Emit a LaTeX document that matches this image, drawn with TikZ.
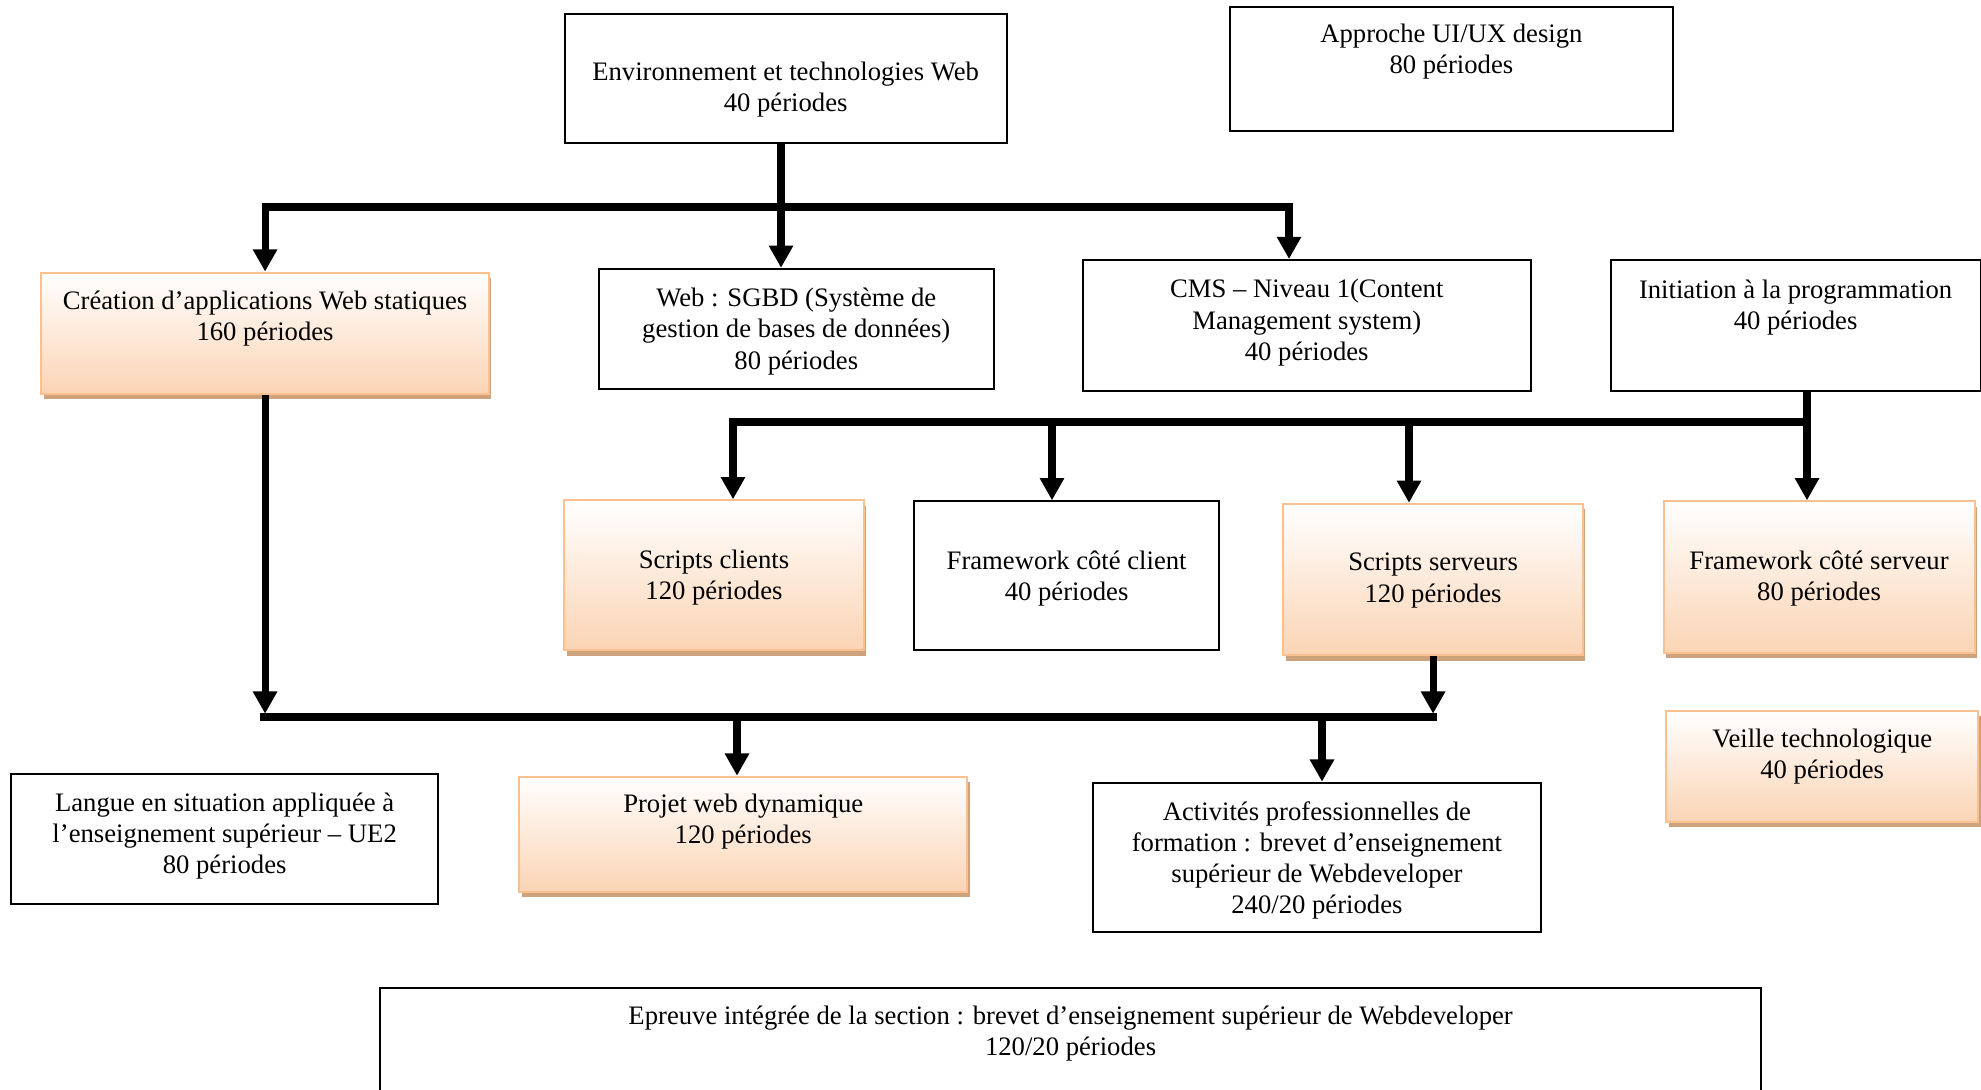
\documentclass[tikz,border=0pt]{standalone}
\usepackage{fontspec}
\setmainfont{Liberation Serif}
\usepackage{tikz}
\usetikzlibrary{
  arrows.meta,
  shadows,
  positioning
}
\definecolor{peach}{RGB}{251,212,180}
\definecolor{peachline}{RGB}{250,192,143}
\definecolor{peachshadow}{RGB}{205,162,125}

\begin{document}
\begin{tikzpicture}[
      x=0.45pt,y=-0.45pt,
      plainbox/.style={
         rectangle,
         anchor=north west,
         inner sep=0pt,
         line width=0.9pt,
         draw=black
      },
      shadedbox/.style={
         plainbox,
         draw=peachline,
         top color=white,
         bottom color=peach,
         drop shadow={shadow xshift=1.2pt,shadow yshift=-2.4pt,
            fill=peachshadow,opacity=1}
      },
      txt/.style={
         anchor=north,
         align=center,
         inner sep=0pt,
         yshift=-#1,
         font=\fontsize{12}{14}\selectfont
      },
      bus/.style={line width=3.2pt,draw=black},
      >={Triangle[width=10.4pt,length=10pt]}
    ]
    \clip (0,0) rectangle (1981,1089);
    % first row
    \node[plainbox, minimum width=199.0pt, minimum height=58.0pt,
       label={[txt=22pt]north:{Environnement et technologies Web\\40 périodes}}] (env) at (563.5,12.6) {};
    \node[plainbox, minimum width=199.0pt, minimum height=55.7pt,
       label={[txt=7.9pt]north:{Approche UI/UX design\\80 périodes}}] (uiux) at (1229.3,6.3) {};
    % second row
    \node[shadedbox, minimum width=201.3pt, minimum height=54.6pt,
       label={[txt=8.5pt]north:{Création d’applications Web statiques\\160 périodes}}] (cwa) at (40.4,271.6) {};
    \node[plainbox, minimum width=177.9pt, minimum height=54.0pt,
       label={[txt=9.0pt]north:{Web : SGBD (Système de\\gestion de bases de données)\\80 périodes}}] (sgbd) at (597.6,267.8) {};
    \node[plainbox, minimum width=201.8pt, minimum height=59.1pt,
       label={[txt=9.0pt]north:{CMS – Niveau 1(Content\\Management system)\\40 périodes}}] (cms) at (1081.5,259.0) {};
    \node[plainbox, minimum width=166.5pt, minimum height=58.8pt,
       label={[txt=9.0pt]north:{Initiation à la programmation\\40 périodes}}] (init) at (1609.6,259.3) {};
    % third row
    \node[shadedbox, minimum width=134.7pt, minimum height=67.5pt,
       label={[txt=22.5pt]north:{Scripts clients\\120 périodes}}] (scli) at (563.3,499.3) {};
    \node[plainbox, minimum width=137.0pt, minimum height=67.1pt,
       label={[txt=22.5pt]north:{Framework côté client\\40 périodes}}] (fcli) at (913.4,500.3) {};
    \node[shadedbox, minimum width=134.7pt, minimum height=68.2pt,
       label={[txt=22.5pt]north:{Scripts serveurs\\120 périodes}}] (sser) at (1282.4,502.8) {};
    \node[shadedbox, minimum width=139.9pt, minimum height=68.2pt,
       label={[txt=22.5pt]north:{Framework côté serveur\\80 périodes}}] (fser) at (1662.6,500.3) {};
    \node[shadedbox, minimum width=140.4pt, minimum height=50.0pt,
       label={[txt=8.5pt]north:{Veille technologique\\40 périodes}}] (veille) at (1665.2,710.0) {};
    % fourth row
    \node[plainbox, minimum width=192.2pt, minimum height=58.5pt,
       label={[txt=8.5pt]north:{Langue en situation appliquée à\\l’enseignement supérieur – UE2\\80 périodes}}] (langue) at (10.1,773.2) {};
    \node[shadedbox, minimum width=201.8pt, minimum height=51.8pt,
       label={[txt=7.9pt]north:{Projet web dynamique\\120 périodes}}] (projet) at (518.0,775.7) {};
    \node[plainbox, minimum width=201.8pt, minimum height=67.1pt,
       label={[txt=8.7pt]north:{Activités professionnelles de\\formation : brevet d’enseignement\\supérieur de Webdeveloper\\240/20 périodes}}] (apf) at (1091.7,781.7) {};
    \node[plainbox, minimum width=621.5pt, minimum height=63pt,
       label={[txt=8.5pt]north:{Epreuve intégrée de la section : brevet d’enseignement supérieur de Webdeveloper\\120/20 périodes}}] (epi) at (379,986.7) {};

    \coordinate (t0) at (781,207);
    \coordinate (t1) at (1289,207);
    \coordinate (m0) at (1807,422);
    \coordinate (m1) at (733,422);
    \coordinate (m2) at (1052,422);
    \coordinate (m3) at (1409,422);
    \coordinate (b0) at (264,717);
    \coordinate (b1) at (737,717);
    \coordinate (b2) at (1322,717);

    \draw[bus] (env.south -| t0) -- (t0);
    \draw[bus,->] (t0) -- (t0 |- sgbd.north);
    \draw[bus,->] (t0) -| (cwa.north);
    \draw[bus,->] (t0) -| (t1 |- cms.north);

    \draw[bus,->] (m0 |- init.south) -- (m0 |- fser.north);
    \draw[bus,->] (m0) -| (m1 |- scli.north);
    \draw[bus,->] (m2) -- (m2 |- fcli.north);
    \draw[bus,->] (m3) -- (m3 |- sser.north);

    \draw[bus,->,shorten >=1.5pt] (cwa.south) -- (cwa.south |- b0);
    \draw[bus,->,shorten >=1.5pt] (sser.south) -- (sser.south |- b0);
    \draw[bus,line cap=rect] (b0) -- (sser.south |- b0);
    \draw[bus,->] (b1) -- (b1 |- projet.north);
    \draw[bus,->] (b2) -- (b2 |- apf.north);
\end{tikzpicture}
\end{document}
